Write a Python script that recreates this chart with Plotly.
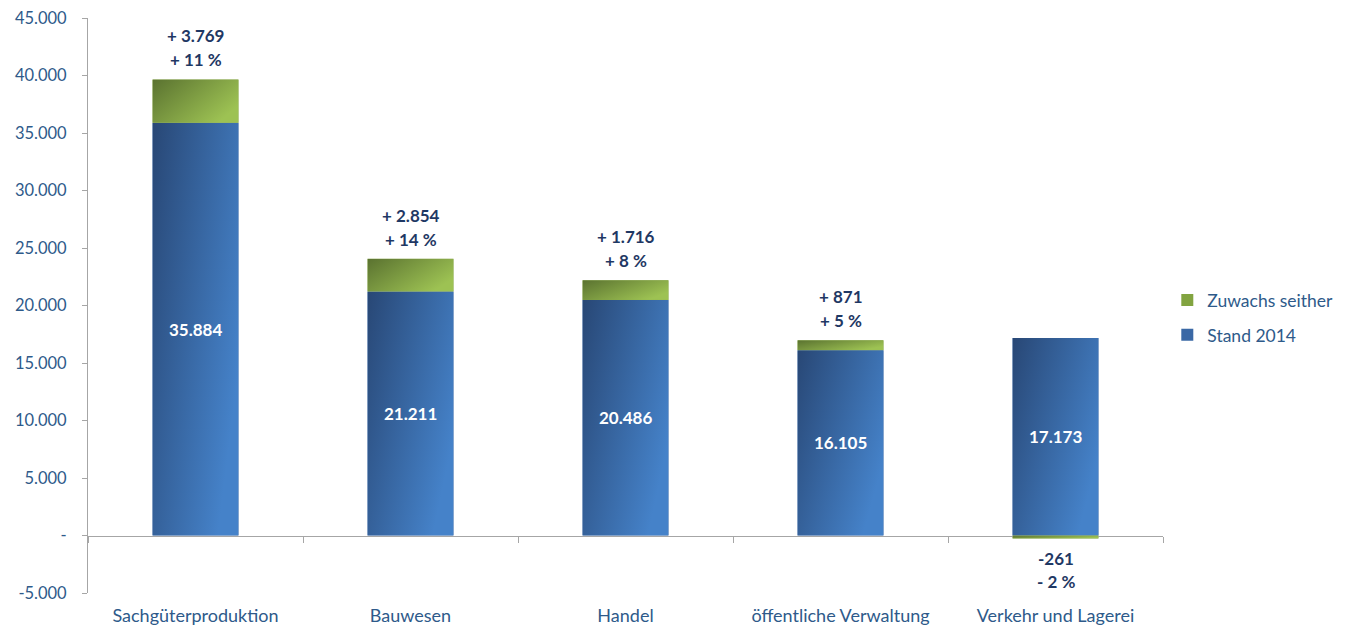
import plotly.graph_objects as go

categories = ["Sachgüterproduktion", "Bauwesen", "Handel", "öffentliche Verwaltung", "Verkehr und Lagerei"]
stand_2014 = [35884, 21211, 20486, 16105, 17173]
zuwachs = [3769, 2854, 1716, 871, -261]
zuwachs_pct = [11, 14, 8, 5, -2]
y_tickvals = [-5000, 0, 5000, 10000, 15000, 20000, 25000, 30000, 35000, 40000, 45000]
y_ticktext = ["-5.000", "-", "5.000", "10.000", "15.000", "20.000", "25.000", "30.000", "35.000", "40.000", "45.000"]

FONT = "Lato, 'Open Sans', sans-serif"
AXIS_TXT = "#2e5a8a"
LABEL_TXT = "#1f3864"
GRID = "#a6a6a6"
BLUE = "#3a68a5"
GREEN = "#82a440"


def de(v):
    return f"{abs(v):,}".replace(",", ".")


def grad_svg(c1, c2):
    svg = (
        "<svg xmlns='http://www.w3.org/2000/svg' width='100' height='100' viewBox='0 0 100 100' preserveAspectRatio='none'>"
        "<defs><linearGradient id='g' x1='0' y1='0' x2='1' y2='0.6'>"
        f"<stop offset='0' stop-color='{c1}'/><stop offset='1' stop-color='{c2}'/>"
        "</linearGradient></defs><rect width='100' height='100' fill='url(#g)'/></svg>"
    )
    return "data:image/svg+xml;utf8," + svg.replace("#", "%23").replace("<", "%3C").replace(">", "%3E")


BLUE_GRAD = grad_svg("#284775", "#4582c9")
GREEN_GRAD = grad_svg("#5a7230", "#9dc253")

fig = go.Figure()
fig.add_trace(go.Bar(
    x=categories, y=stand_2014, name="Stand 2014",
    marker=dict(color=BLUE, line=dict(width=0)),
    legendgroup="stand", legendrank=2, hoverinfo="skip",
))
fig.add_trace(go.Bar(
    x=categories, y=zuwachs, name="Zuwachs seither",
    marker=dict(color=GREEN, line=dict(width=0)),
    legendgroup="zuwachs", legendrank=1, hoverinfo="skip",
))
# helper trace carrying the zero-line category axis
fig.add_trace(go.Scatter(
    x=categories, y=[0] * len(categories), xaxis="x2", mode="markers",
    marker=dict(opacity=0), showlegend=False, hoverinfo="skip",
))

LBL = dict(size=17, color=LABEL_TXT, family=FONT, weight="bold")
images = []
annotations = []
for i, (cat, s, z, p) in enumerate(zip(categories, stand_2014, zuwachs, zuwachs_pct)):
    images.append(dict(source=BLUE_GRAD, xref="x", yref="y", x=i - 0.2, y=s,
                       sizex=0.4, sizey=s, xanchor="left", yanchor="top",
                       sizing="stretch", layer="above"))
    if z >= 0:
        images.append(dict(source=GREEN_GRAD, xref="x", yref="y", x=i - 0.2, y=s + z,
                           sizex=0.4, sizey=z, xanchor="left", yanchor="top",
                           sizing="stretch", layer="above"))
        annotations.append(dict(x=cat, y=s + z, yanchor="bottom", yshift=7, text=f"+ {p} %",
                                showarrow=False, font=LBL))
        annotations.append(dict(x=cat, y=s + z, yanchor="bottom", yshift=31, text=f"+ {de(z)}",
                                showarrow=False, font=LBL))
    else:
        images.append(dict(source=GREEN_GRAD, xref="x", yref="y", x=i - 0.2, y=0,
                           sizex=0.4, sizey=-z, xanchor="left", yanchor="top",
                           sizing="stretch", layer="above"))
        annotations.append(dict(x=cat, y=z, yanchor="top", yshift=-7, text=f"-{de(z)}",
                                showarrow=False, font=LBL))
        annotations.append(dict(x=cat, y=z, yanchor="top", yshift=-30, text=f"- {abs(p)} %",
                                showarrow=False, font=LBL))
    annotations.append(dict(x=cat, y=s / 2, text=de(s), showarrow=False,
                            font=dict(size=17, color="white", family=FONT, weight="bold")))

fig.update_layout(
    width=1355, height=630,
    margin=dict(l=88, r=192, t=18, b=37, autoexpand=False),
    paper_bgcolor="white", plot_bgcolor="white",
    barmode="relative", bargap=0.6,
    font=dict(family=FONT, size=16, color=AXIS_TXT),
    showlegend=True,
    legend=dict(x=1.004, y=0.479, xanchor="left", yanchor="middle",
                traceorder="grouped", tracegroupgap=9,
                font=dict(size=17.5, color=AXIS_TXT, family=FONT),
                bgcolor="rgba(0,0,0,0)"),
    xaxis=dict(type="category", range=[-0.5, 4.5], showline=False, ticks="",
               showgrid=False, zeroline=False, automargin=False, ticklabelstandoff=10,
               tickfont=dict(size=18, color=AXIS_TXT, family=FONT)),
    xaxis2=dict(type="category", overlaying="x", anchor="free", position=0.1,
                range=[-0.5, 4.5], matches="x", showline=True, linecolor=GRID, linewidth=1,
                ticks="outside", tickson="boundaries", ticklen=6, tickcolor=GRID,
                showticklabels=False, showgrid=False, zeroline=False, automargin=False),
    yaxis=dict(range=[-5000, 45000], tickvals=y_tickvals, ticktext=y_ticktext,
               showgrid=False, zeroline=False, showline=True, linecolor=GRID, linewidth=1,
               ticks="outside", ticklen=5, tickcolor=GRID, automargin=False, ticklabelstandoff=12,
               tickfont=dict(size=16.5, color=AXIS_TXT, family=FONT)),
    images=images,
    annotations=annotations,
)

fig.write_html("out.html")
